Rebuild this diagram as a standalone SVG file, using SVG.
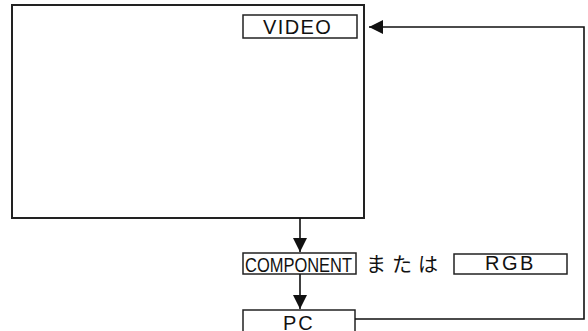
<svg xmlns="http://www.w3.org/2000/svg" width="588" height="331" viewBox="0 0 588 331">
<style>
.box{fill:#fff;stroke:#222;stroke-width:2}
.lbl{fill:#fff;stroke:#222;stroke-width:1.5}
.t{font-family:"Liberation Sans",Arial,sans-serif;font-size:20px;fill:#111}
.line{fill:none;stroke:#111;stroke-width:1.6}
</style>
<defs>
<marker id="ah" viewBox="0 0 14 14" refX="14" refY="7" markerWidth="14" markerHeight="14" markerUnits="userSpaceOnUse" orient="auto">
<path d="M0,0 L14,7 L0,14 Z" fill="#111"/>
</marker>
</defs>
<g id="screen">
<rect class="box" x="12" y="5" width="352" height="213"/>
</g>
<g id="video">
<rect class="lbl" x="243" y="15" width="114" height="23"/>
<text class="t" x="263" y="34" font-size="21" letter-spacing="1.4">VIDEO</text>
</g>
<g id="component">
<rect class="lbl" x="243" y="253" width="113" height="21"/>
<text class="t" x="245" y="272" font-size="21" textLength="107" lengthAdjust="spacingAndGlyphs">COMPONENT</text>
</g>
<g id="or">
<text x="366" y="272" font-family="'Noto Sans CJK JP',sans-serif" font-size="20" fill="#111" letter-spacing="6">または</text>
</g>
<g id="rgb">
<rect class="lbl" x="454" y="254" width="113" height="20"/>
<text class="t" x="485" y="270" font-size="19" letter-spacing="2.5">RGB</text>
</g>
<g id="pc">
<rect class="lbl" x="243" y="310" width="112" height="30"/>
<text class="t" x="283" y="330" letter-spacing="2">PC</text>
</g>
<g id="connectors">
<line class="line" x1="300" y1="218" x2="300" y2="252" marker-end="url(#ah)"/>
<line class="line" x1="300" y1="274" x2="300" y2="309" marker-end="url(#ah)"/>
<polyline class="line" points="355,319 584,319 584,27 369,27" marker-end="url(#ah)"/>
</g>
</svg>
